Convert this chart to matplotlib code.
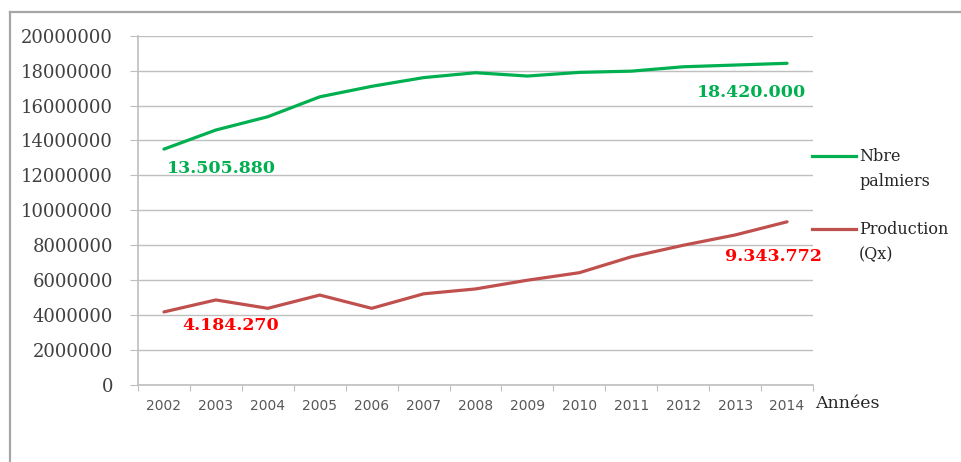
import matplotlib
matplotlib.use("Agg")
import matplotlib.pyplot as plt
from matplotlib.lines import Line2D
import numpy as np

years = ['2002', '2003', '2004', '2005', '2006', '2007', '2008',
         '2009', '2010', '2011', '2012', '2013', '2014']
palmiers = [13505880, 14600000, 15360000, 16500000, 17100000, 17600000, 17880000,
            17690000, 17900000, 17970000, 18220000, 18320000, 18420000]
production = [4184270, 4870000, 4390000, 5150000, 4390000, 5220000, 5500000,
              6000000, 6430000, 7340000, 8000000, 8590000, 9343772]
yticks = [0, 2000000, 4000000, 6000000, 8000000, 10000000, 12000000,
          14000000, 16000000, 18000000, 20000000]

green = '#00B050'
red_line = '#C0504D'
red_txt = '#FF0000'
grey = '#BFBFBF'

fig = plt.figure(figsize=(9.61, 4.62), dpi=100)
W, H = 961.0, 462.0

# outer chart frame (only top and left visible)
fig.add_artist(Line2D([10 / W, 10 / W], [0, 1 - 12 / H], color='#A6A6A6', lw=1.6))
fig.add_artist(Line2D([10 / W, 1], [1 - 12 / H, 1 - 12 / H], color='#A6A6A6', lw=1.6))

ax = fig.add_axes([138 / W, 77 / H, 675 / W, (385 - 35.7) / H])

x = np.arange(len(years))
ax.plot(x, palmiers, color=green, lw=2.3, solid_capstyle='round')
ax.plot(x, production, color=red_line, lw=2.3, solid_capstyle='round')

ax.set_xlim(-0.5, len(years) - 0.5)
ax.set_ylim(0, 20000000)

ax.set_yticks(yticks)
ax.set_yticklabels([str(v) for v in yticks], family='DejaVu Serif', fontsize=13,
                   color='#404040')
ax.yaxis.grid(True, color=grey, lw=1.0)
ax.set_axisbelow(True)
ax.tick_params(axis='y', length=6, color=grey, pad=12)

ax.set_xticks(np.arange(-0.5, len(years), 1.0))
ax.set_xticklabels([])
ax.tick_params(axis='x', which='major', length=4, color=grey)
ax.set_xticks(x, minor=True)
ax.set_xticklabels(years, minor=True, family='DejaVu Sans', fontsize=10,
                   color='#595959')
ax.tick_params(axis='x', which='minor', length=0, pad=10)

for s in ['top', 'right']:
    ax.spines[s].set_visible(False)
for s in ['left', 'bottom']:
    ax.spines[s].set_color(grey)
    ax.spines[s].set_linewidth(1.2)

# data labels
lab = dict(family='DejaVu Serif', fontsize=12.5, fontweight='bold', va='center')
ax.annotate('13.505.880', (0, palmiers[0]), xytext=(3, -19),
            textcoords='offset pixels', color=green, ha='left', **lab)
ax.annotate('18.420.000', (12, palmiers[-1]), xytext=(19, -29),
            textcoords='offset pixels', color=green, ha='right', **lab)
ax.annotate('4.184.270', (0, production[0]), xytext=(18, -14),
            textcoords='offset pixels', color=red_txt, ha='left', **lab)
ax.annotate('9.343.772', (12, production[-1]), xytext=(35, -35),
            textcoords='offset pixels', color=red_txt, ha='right', **lab)

# axis title
fig.text(815 / W, 1 - 404 / H, 'Années', family='DejaVu Serif', fontsize=12.5,
         color='#262626', va='center', ha='left')

# legend drawn by hand, Excel style
leg = [('Nbre\npalmiers', green, 155.5), ('Production\n(Qx)', red_line, 229)]
for text, col, yy in leg:
    fig.add_artist(Line2D([812 / W, 856 / W], [1 - yy / H, 1 - yy / H],
                          color=col, lw=2.3))
    fig.text(859 / W, 1 - (yy - 7.5) / H, text, family='DejaVu Serif', fontsize=11.5,
             color='#262626', va='top', ha='left', linespacing=1.6)

fig.savefig('out.png', dpi=100)
